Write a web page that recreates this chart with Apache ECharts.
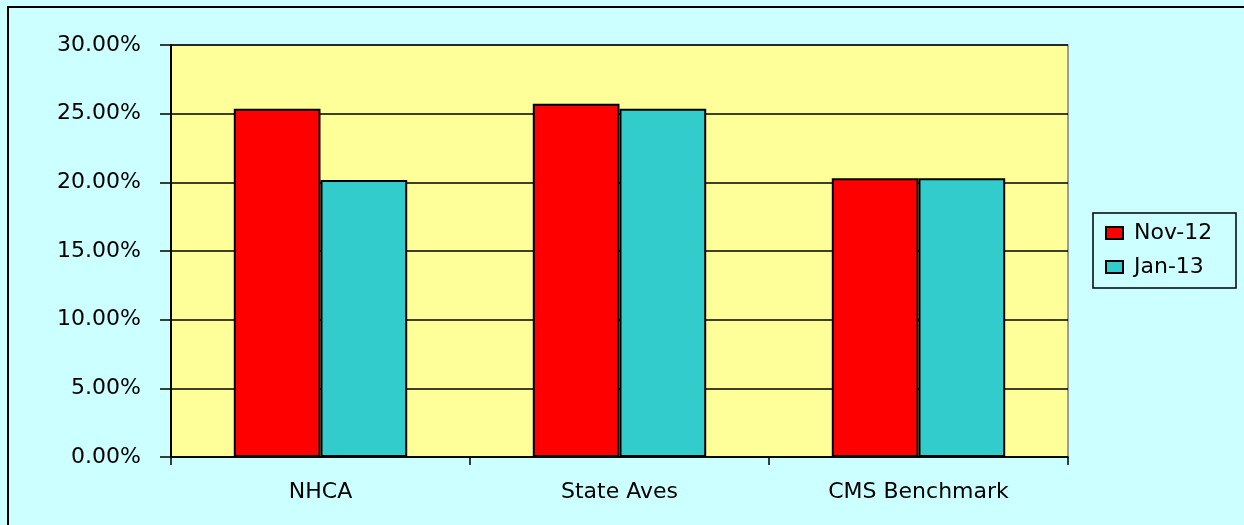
<!DOCTYPE html>
<html>
<head>
<meta charset="utf-8">
<script src="https://cdn.jsdelivr.net/npm/echarts@6/dist/echarts.min.js"></script>
<style>
  html, body { margin: 0; padding: 0; background: #ccffff; }
  #chart { width: 1244px; height: 525px; }
</style>
</head>
<body>
<div id="chart"></div>
<script>
// data (percent)
const categories = ["NHCA", "State Aves", "CMS Benchmark"];
const nov12 = [25.35, 25.73, 20.3];
const jan13 = [20.17, 25.35, 20.3];
const yTicks = { min: 0, max: 30, step: 5 };

const chart = echarts.init(document.getElementById("chart"));

const font = "DejaVu Sans, Arial, sans-serif";

chart.setOption({
  backgroundColor: "#ccffff",
  animation: false,
  textStyle: { fontFamily: font },
  graphic: [
    // outer chart border (only left/top visible in the frame)
    {
      type: "rect",
      shape: { x: 8, y: 7, width: 1400, height: 700 },
      style: { fill: "none", stroke: "#000", lineWidth: 2 },
      silent: true
    },
    // legend box
    {
      type: "rect",
      shape: { x: 1093, y: 213, width: 143, height: 75 },
      style: { fill: "none", stroke: "#000", lineWidth: 1.5 },
      silent: true
    }
  ],
  grid: {
    left: 171, top: 45, right: 176, bottom: 68,
    show: true,
    backgroundColor: "#ffff99",
    borderColor: "#808080",
    borderWidth: 1.5
  },
  legend: {
    orient: "vertical",
    left: 1105, top: 222,
    padding: 0,
    icon: "rect",
    itemWidth: 17, itemHeight: 12,
    itemGap: 12,
    textStyle: { fontSize: 22, color: "#000", fontFamily: font, padding: [0, 0, 0, 6] },
    data: ["Nov-12", "Jan-13"]
  },
  xAxis: {
    type: "category",
    data: categories,
    axisLine: { lineStyle: { color: "#000", width: 1.5 } },
    axisTick: { show: true, length: 8, inside: false, lineStyle: { color: "#000", width: 1.5 } },
    axisLabel: { color: "#000", fontSize: 22, margin: 24, fontFamily: font }
  },
  yAxis: {
    type: "value",
    min: yTicks.min, max: yTicks.max, interval: yTicks.step,
    axisLine: { show: true, lineStyle: { color: "#000", width: 2 } },
    axisTick: { show: true, length: 11, lineStyle: { color: "#000", width: 1.5 } },
    axisLabel: {
      color: "#000", fontSize: 22, margin: 30, fontFamily: font,
      formatter: (v) => v.toFixed(2) + "%"
    },
    splitLine: { show: true, lineStyle: { color: "#000", width: 1.5 } }
  },
  series: [
    {
      name: "Nov-12",
      type: "bar",
      data: nov12,
      barGap: "0%",
      barCategoryGap: "42%",
      itemStyle: { color: "#ff0000", borderColor: "#000", borderWidth: 2 }
    },
    {
      name: "Jan-13",
      type: "bar",
      data: jan13,
      itemStyle: { color: "#33cccc", borderColor: "#000", borderWidth: 2 }
    }
  ]
});
</script>
</body>
</html>
